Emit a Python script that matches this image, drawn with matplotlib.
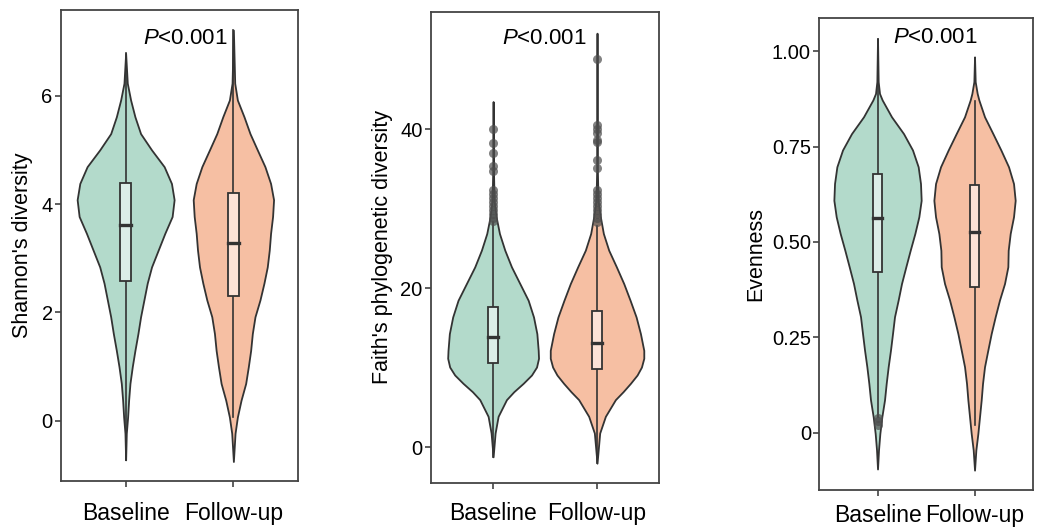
import numpy as np
import matplotlib
matplotlib.use('Agg')
import matplotlib.pyplot as plt

plt.rcParams['font.family'] = ['Liberation Sans', 'DejaVu Sans']
plt.rcParams['mathtext.fontset'] = 'custom'
plt.rcParams['mathtext.rm'] = 'Liberation Sans'
plt.rcParams['mathtext.it'] = 'Liberation Sans:italic'

groups = ['Baseline', 'Follow-up']
fills = ['#B3DACB', '#F6BFA3']
box_fills = ['#DCEEE8', '#FCE2D6']
dark = '#333333'

# ---- Shannon's diversity: violin profiles (y level, relative density) ----
sh_base_y = [-0.72, -0.23, 0.07, 0.38, 0.69, 1.0, 1.30, 1.61, 1.92, 2.23, 2.54, 2.84, 3.15,
             3.46, 3.77, 4.08, 4.38, 4.69, 5.0, 5.3, 5.61, 5.92, 6.23, 6.78]
sh_base_d = [0, 2, 6, 9, 13, 20, 28, 37, 45, 55, 65, 78, 98, 118, 140, 146, 138, 116, 78,
             45, 28, 15, 5, 0]
sh_fu_y = [-0.75, -0.23, 0.07, 0.38, 0.69, 1.0, 1.30, 1.61, 1.92, 2.23, 2.54, 2.84, 3.15,
           3.46, 3.77, 4.08, 4.38, 4.69, 5.0, 5.3, 5.61, 5.92, 6.23, 7.21]
sh_fu_d = [0, 5, 12, 23, 37, 45, 52, 57, 65, 80, 92, 102, 108, 112, 118, 121, 112, 95, 72,
           50, 32, 12, 4, 0]
# box stats: q1, median, q3, whisker low, whisker high
sh_box = [(2.58, 3.61, 4.38, -0.72, 6.78), (2.31, 3.29, 4.20, 0.07, 7.21)]

# ---- Faith's phylogenetic diversity ----
fa_base_y = [-1.2, 1.8, 3.9, 6.0, 7.0, 8.05, 9.1, 10.1, 11.2, 12.2, 14.3, 16.4, 18.5, 20.6,
             22.7, 24.8, 26.9, 29.0, 31.0, 35.0, 43.5]
fa_base_d = [0, 6, 15, 40, 62, 90, 115, 130, 136, 135, 131, 121, 105, 80, 55, 35, 19, 9, 3,
             1, 0]
fa_fu_y = [-2.0, 1.8, 3.9, 6.0, 7.0, 8.05, 9.1, 10.1, 11.2, 12.2, 14.3, 16.4, 18.5, 20.6,
           22.7, 24.8, 26.9, 29.0, 31.0, 35.0, 52.1]
fa_fu_d = [0, 8, 25, 55, 78, 100, 120, 133, 140, 140, 130, 117, 99, 80, 58, 35, 19, 10, 3,
           1, 0]
fa_box = [(10.6, 13.9, 17.65, -1.2, 28.3), (9.85, 13.1, 17.15, -2.0, 27.8)]
fa_base_out = [40.1, 38.3, 37.0, 35.4, 34.7, 32.4, 31.9, 31.4, 30.9, 30.4, 29.9, 29.4,
               28.9, 28.5]
fa_fu_out = [48.8, 40.5, 40.1, 39.5, 38.7, 38.4, 36.2, 35.1, 32.4, 31.9, 31.4, 30.9, 30.4,
             29.9, 29.4, 28.9, 28.4]

# ---- Evenness ----
ev_base_y = [-0.095, -0.045, -0.002, 0.042, 0.086, 0.129, 0.173, 0.217, 0.260, 0.304,
             0.348, 0.391, 0.435, 0.478, 0.522, 0.566, 0.609, 0.653, 0.697, 0.741, 0.784,
             0.828, 0.872, 0.889, 0.92, 1.033]
ev_base_d = [0, 3, 7, 13, 21, 26, 32, 39, 45, 51, 62, 72, 85, 98, 112, 124, 131, 129, 122,
             105, 78, 42, 14, 6, 2, 0]
ev_fu_y = [-0.098, -0.045, -0.002, 0.042, 0.086, 0.129, 0.173, 0.217, 0.260, 0.304, 0.348,
           0.391, 0.435, 0.478, 0.522, 0.566, 0.609, 0.653, 0.697, 0.741, 0.784, 0.828,
           0.872, 0.889, 0.92, 0.985]
ev_fu_d = [0, 4, 10, 15, 20, 24, 30, 40, 50, 62, 75, 90, 100, 101, 107, 117, 122, 117, 102,
           79, 55, 30, 13, 8, 2, 0]
ev_box = [(0.422, 0.562, 0.677, 0.04, 1.033), (0.383, 0.525, 0.649, 0.02, 0.87)]
ev_base_out = [0.038, 0.03, 0.02]

panels = [
    dict(ylabel="Shannon's diversity", prof=[(sh_base_y, sh_base_d), (sh_fu_y, sh_fu_d)],
         box=sh_box, out=[[], []], yticks=[0, 2, 4, 6], yticklabels=['0', '2', '4', '6'],
         ylim=(-1.11, 7.58), ptext=(1.55, 6.96), rect=[0.0578, 0.089, 0.2247, 0.892],
         ylab_x=-0.118, xpad=10.5),
    dict(ylabel="Faith's phylogenetic diversity", prof=[(fa_base_y, fa_base_d), (fa_fu_y, fa_fu_d)],
         box=fa_box, out=[fa_base_out, fa_fu_out], yticks=[0, 20, 40],
         yticklabels=['0', '20', '40'], ylim=(-4.45, 54.8), ptext=(1.49, 50.8),
         rect=[0.4083, 0.0858, 0.2167, 0.892], ylab_x=-0.166, xpad=9.5),
    dict(ylabel='Evenness', prof=[(ev_base_y, ev_base_d), (ev_fu_y, ev_fu_d)],
         box=ev_box, out=[ev_base_out, []], yticks=[0, 0.25, 0.5, 0.75, 1.0],
         yticklabels=['0', '0.25', '0.50', '0.75', '1.00'], ylim=(-0.150, 1.086),
         ptext=(1.6, 1.022), rect=[0.7766, 0.072, 0.2023, 0.8933], ylab_x=-0.249, xpad=5.5),
]

fig = plt.figure(figsize=(10.55, 5.28), dpi=100)
for p in panels:
    ax = fig.add_axes(p['rect'])
    dmax = max(max(d) for _, d in p['prof'])
    for i, (y, d) in enumerate(p['prof']):
        x0 = i + 1
        hw = np.array(d) / dmax * 0.45
        ax.fill_betweenx(y, x0 - hw, x0 + hw, facecolor=fills[i], edgecolor=dark,
                         linewidth=1.3, joinstyle='round', zorder=2)
        q1, med, q3, lo, hi = p['box'][i]
        ax.plot([x0, x0], [lo, q1], color=dark, lw=1.2, zorder=3)
        ax.plot([x0, x0], [q3, hi], color=dark, lw=1.2, zorder=3)
        ax.add_patch(plt.Rectangle((x0 - 0.05, q1), 0.1, q3 - q1, facecolor=box_fills[i],
                                   edgecolor=dark, lw=1.3, zorder=4))
        ax.plot([x0 - 0.05, x0 + 0.05], [med, med], color=dark, lw=2.4, zorder=5)
        if p['out'][i]:
            ax.plot([x0] * len(p['out'][i]), p['out'][i], 'o', color='#4d4d4d', alpha=0.7,
                    markersize=6.5, markeredgewidth=0, zorder=6)
    ax.set_xlim(0.4, 2.6)
    ax.set_ylim(*p['ylim'])
    ax.set_xticks([1, 2])
    ax.set_xticklabels(groups, fontsize=16.5)
    ax.set_yticks(p['yticks'])
    ax.set_yticklabels(p['yticklabels'], fontsize=14.5)
    ax.tick_params(axis='y', length=4.5, width=1.1, color=dark, pad=1.5)
    ax.tick_params(axis='x', length=4.5, width=1.1, color=dark, pad=p['xpad'])
    for s in ax.spines.values():
        s.set_color('#444444')
        s.set_linewidth(1.3)
    ax.set_ylabel(p['ylabel'], fontsize=15.5)
    ax.yaxis.set_label_coords(p['ylab_x'], 0.5)
    ax.text(p['ptext'][0], p['ptext'][1], r'$\it{P}$<0.001', fontsize=16, ha='center',
            va='baseline')

fig.savefig('out.png', dpi=100)
